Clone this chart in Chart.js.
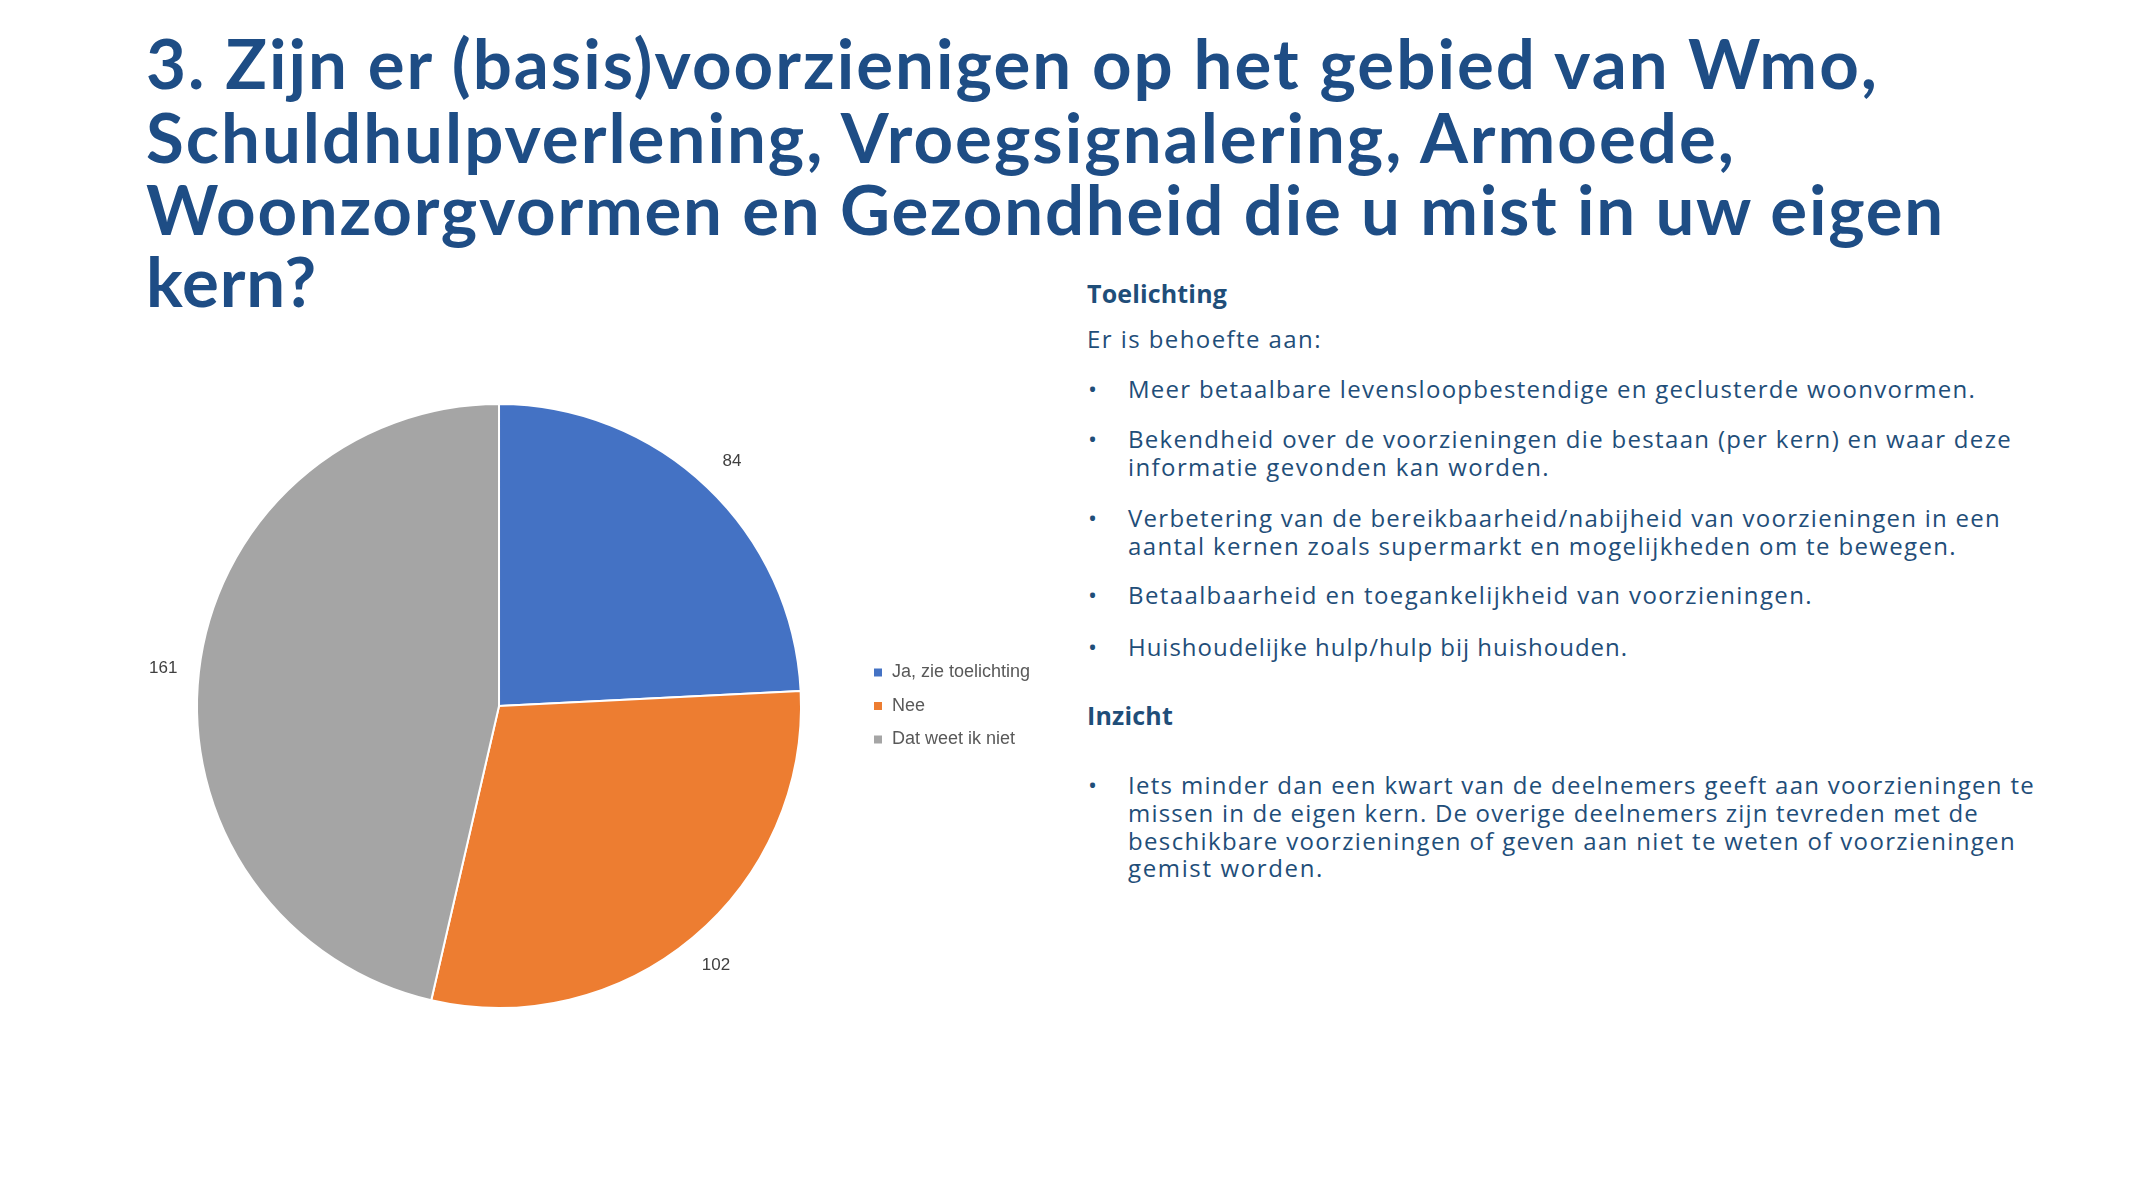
<!DOCTYPE html>
<html lang="nl">
<head>
<meta charset="utf-8">
<title>Voorzieningen</title>
<script src="https://cdn.jsdelivr.net/npm/chart.js@4.4.1/dist/chart.umd.min.js"></script>
<style>
  html, body { margin: 0; padding: 0; background: #fff; }
  body { width: 2132px; height: 1203px; position: relative; overflow: hidden; }
  .ln { position: absolute; white-space: nowrap; }
  .title { font-family: Lato, "Open Sans", sans-serif; font-weight: 700; font-size: 69px; color: #1e4d85; }
  .body { font-family: "Open Sans", sans-serif; font-size: 24px; color: #1f4e79; }
  .head { font-family: "Open Sans", sans-serif; font-weight: 700; font-size: 25px; color: #1f4e79; }
  #chart-wrap { position: absolute; left: 80px; top: 353px; width: 960px; height: 706px; }
</style>
</head>
<body>

<!-- title, one div per line: data-b = baseline y, data-r = right edge x -->
<div class="ln title" data-x="146" data-b="89" data-r="1879">3. Zijn er (basis)voorzienigen op het gebied van Wmo,</div>
<div class="ln title" data-x="146" data-b="163" data-r="1736">Schuldhulpverlening, Vroegsignalering, Armoede,</div>
<div class="ln title" data-x="146" data-b="235" data-r="1945">Woonzorgvormen en Gezondheid die u mist in uw eigen</div>
<div class="ln title" data-x="146" data-b="307" data-r="317">kern?</div>

<!-- right panel -->
<div class="ln head" data-x="1087" data-b="303" data-r="1227">Toelichting</div>
<div class="ln body" data-x="1087" data-b="348" data-r="1322">Er is behoefte aan:</div>

<div class="ln body" data-x="1088" data-b="398">•</div>
<div class="ln body" data-x="1128" data-b="398" data-r="1976">Meer betaalbare levensloopbestendige en geclusterde woonvormen.</div>

<div class="ln body" data-x="1088" data-b="448">•</div>
<div class="ln body" data-x="1128" data-b="448" data-r="2012">Bekendheid over de voorzieningen die bestaan (per kern) en waar deze</div>
<div class="ln body" data-x="1128" data-b="476" data-r="1550">informatie gevonden kan worden.</div>

<div class="ln body" data-x="1088" data-b="527">•</div>
<div class="ln body" data-x="1128" data-b="527" data-r="2001">Verbetering van de bereikbaarheid/nabijheid van voorzieningen in een</div>
<div class="ln body" data-x="1128" data-b="555" data-r="1957">aantal kernen zoals supermarkt en mogelijkheden om te bewegen.</div>

<div class="ln body" data-x="1088" data-b="604">•</div>
<div class="ln body" data-x="1128" data-b="604" data-r="1813">Betaalbaarheid en toegankelijkheid van voorzieningen.</div>

<div class="ln body" data-x="1088" data-b="656">•</div>
<div class="ln body" data-x="1128" data-b="656" data-r="1628">Huishoudelijke hulp/hulp bij huishouden.</div>

<div class="ln head" data-x="1087" data-b="725" data-r="1173">Inzicht</div>

<div class="ln body" data-x="1088" data-b="794">•</div>
<div class="ln body" data-x="1128" data-b="794" data-r="2035">Iets minder dan een kwart van de deelnemers geeft aan voorzieningen te</div>
<div class="ln body" data-x="1128" data-b="822" data-r="1979">missen in de eigen kern. De overige deelnemers zijn tevreden met de</div>
<div class="ln body" data-x="1128" data-b="850" data-r="2016">beschikbare voorzieningen of geven aan niet te weten of voorzieningen</div>
<div class="ln body" data-x="1128" data-b="877" data-r="1324">gemist worden.</div>

<div id="chart-wrap"><canvas id="pie"></canvas></div>

<script>
// Data
const categories = ['Ja, zie toelichting', 'Nee', 'Dat weet ik niet'];
const counts = [84, 102, 161];
const sliceColors = ['#4472C4', '#ED7D31', '#A5A5A5'];

// Place text lines on their baseline and stretch them to the measured width
function placeLines() {
    document.querySelectorAll('.ln').forEach(el => {
        el.style.left = el.dataset.x + 'px';
        el.style.top = '0px';
        const probe = document.createElement('span');
        probe.style.display = 'inline-block';
        probe.style.width = '0';
        probe.style.height = '0';
        el.appendChild(probe);
        const baseOff = probe.offsetTop;
        el.removeChild(probe);
        el.style.top = (el.dataset.b - baseOff) + 'px';

        if (el.dataset.r) {
            const target = el.dataset.r - el.dataset.x;
            const w = el.getBoundingClientRect().width;
            const n = el.textContent.length;
            el.style.letterSpacing = ((target - w) / n).toFixed(3) + 'px';
        }
    });
}
placeLines();

// Value labels just outside each slice
const outsideLabels = {
    id: 'outsideLabels',
    afterDatasetsDraw(chart) {
        const ctx = chart.ctx;
        const meta = chart.getDatasetMeta(0);
        ctx.save();
        ctx.font = '17px "Liberation Sans", sans-serif';
        ctx.fillStyle = '#404040';
        ctx.textAlign = 'center';
        ctx.textBaseline = 'middle';
        meta.data.forEach((arc, i) => {
            const p = arc.getProps(['x', 'y', 'startAngle', 'endAngle', 'outerRadius'], true);
            const mid = (p.startAngle + p.endAngle) / 2;
            const r = p.outerRadius + 36;
            ctx.fillText(String(counts[i]), p.x + Math.cos(mid) * r, p.y + Math.sin(mid) * r);
        });
        ctx.restore();
    }
};

const padL = 60.5;
const areaW = 717;

const chart = new Chart(document.getElementById('pie'), {
    type: 'pie',
    data: {
        labels: categories,
        datasets: [{
            data: counts,
            backgroundColor: sliceColors,
            borderColor: '#ffffff',
            borderWidth: 2
        }]
    },
    options: {
        responsive: true,
        maintainAspectRatio: false,
        animation: false,
        events: [],
        layout: { padding: { left: padL, right: 0, top: 50, bottom: 50 } },
        plugins: {
            legend: {
                position: 'right',
                align: 'center',
                labels: {
                    boxWidth: 10,
                    boxHeight: 10,
                    padding: 15.5,
                    color: '#595959',
                    font: { family: '"Liberation Sans", sans-serif', size: 18 }
                }
            },
            tooltip: { enabled: false }
        }
    },
    plugins: [outsideLabels]
});

// size the box so the pie area keeps its width next to the legend
const wrap = document.getElementById('chart-wrap');
wrap.style.width = (padL + areaW + chart.legend.width) + 'px';
chart.resize();
</script>
</body>
</html>
